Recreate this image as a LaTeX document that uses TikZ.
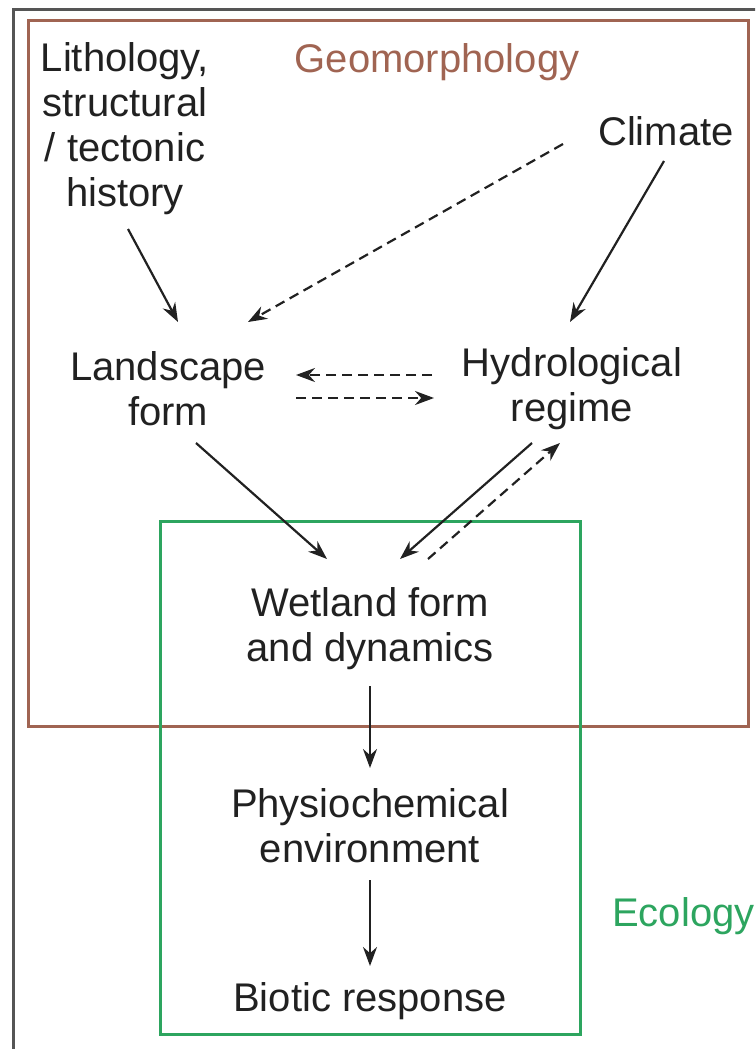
\documentclass[tikz,border=0pt]{standalone}
\usepackage{fontspec}
\setmainfont{Liberation Sans}
\usetikzlibrary{arrows.meta}
\definecolor{geobrown}{RGB}{160,100,82}
\definecolor{ecogreen}{RGB}{45,165,95}
\definecolor{framegray}{RGB}{85,85,85}
\tikzset{
  lbl/.style={align=center, inner sep=0pt, font=\fontsize{40}{45}\selectfont, text=black!87},
  arr/.style={line width=2.2pt, draw=black!87, -{Stealth[length=19pt,width=14pt]}},
  darr/.style={arr, dash pattern=on 10pt off 6pt},
  box/.style={line width=3pt}
}
\begin{document}
\begin{tikzpicture}[x=1pt,y=-1pt]
\useasboundingbox (0,0) rectangle (755,1049);
\begin{scope}
\clip (0,0) rectangle (755,1049);
% outer frame (only top and left sides are visible)
\draw[framegray, line width=3pt] (13,1060) -- (13,10) -- (770,10);
\draw[geobrown, box] (28,21) rectangle (748,726);
\draw[ecogreen, box] (160,521) rectangle (580,1034);
% labels
\node[lbl] (lith) at (125,129) {Lithology,\\structural\\/ tectonic\\history};
\node[lbl, text=geobrown] (geo) at (437,62) {Geomorphology};
\node[lbl] (clim) at (666,131) {Climate};
\node[lbl] (land) at (168,389) {Landscape\\form};
\node[lbl] (hydro) at (572,389) {Hydrological\\regime};
\node[lbl] (wet) at (370,629) {Wetland form\\and dynamics};
\node[lbl] (phys) at (370,826) {Physiochemical\\environment};
\node[lbl] (bio) at (370,1001) {Biotic response};
\node[lbl, text=ecogreen, anchor=west] (eco) at (612,916) {Ecology};
% connectors
\draw[arr] ([shift={(3,100)}]lith.center) -- ([shift={(10,-67)}]land.center);
\draw[darr] ([shift={(-103,13)}]clim.center) -- ([shift={(80,-67)}]land.center);
\draw[arr] ([shift={(-2,30)}]clim.center) -- ([shift={(-2,-67)}]hydro.center);
\draw[darr] ([shift={(-140,-14)}]hydro.center) -- ([shift={(128,-14)}]land.center);
\draw[darr] ([shift={(128,9)}]land.center) -- ([shift={(-138,9)}]hydro.center);
\draw[arr] ([shift={(28,54)}]land.center) -- ([shift={(-43,-70)}]wet.center);
\draw[arr] ([shift={(-40,54)}]hydro.center) -- ([shift={(30,-70)}]wet.center);
\draw[darr] ([shift={(58,-70)}]wet.center) -- ([shift={(-12,54)}]hydro.center);
\draw[arr] ([shift={(0,57)}]wet.center) -- ([shift={(0,-58)}]phys.center);
\draw[arr] ([shift={(0,54)}]phys.center) -- ([shift={(0,-35)}]bio.center);
\end{scope}
\end{tikzpicture}
\end{document}
